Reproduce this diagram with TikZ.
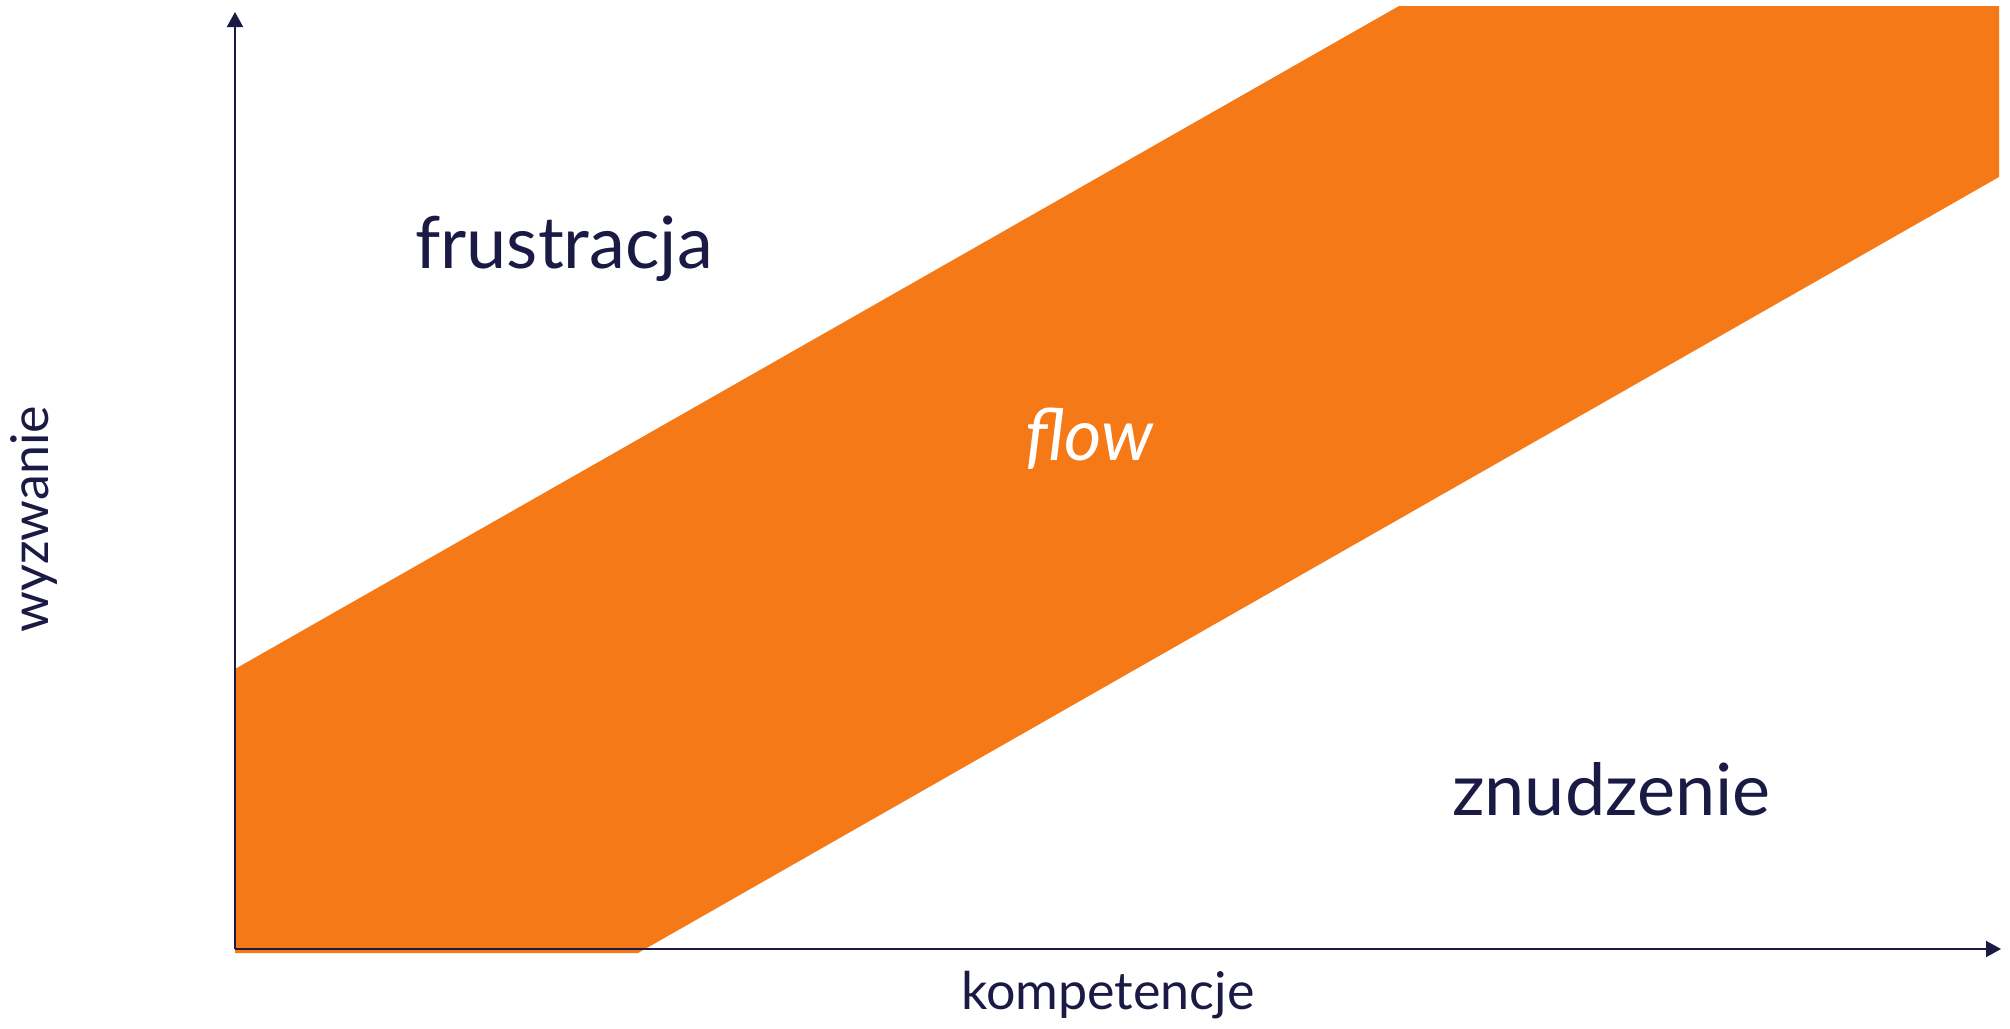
\documentclass[tikz,border=0pt]{standalone}
\usepackage{fontspec}
\setmainfont{Lato}
\usetikzlibrary{arrows.meta}
\definecolor{flowor}{RGB}{245,121,22}
\definecolor{navy}{RGB}{27,26,68}
\begin{document}
\begin{tikzpicture}[x=1pt,y=-1pt,
  axis/.style={draw=navy,line width=2pt,-{Triangle[length=15pt,width=16pt]}},
  biglabel/.style={text=navy,font=\fontsize{72}{80}\selectfont,inner sep=0pt,anchor=base west},
  axlabel/.style={text=navy,font=\fontsize{52}{60}\selectfont,inner sep=0pt}]
\useasboundingbox (0,0) rectangle (2010,1028);
\fill[flowor] (235,669) -- (1399,6) -- (1999,6) -- (1999,177) -- (638,953) -- (235,953) -- cycle;
\coordinate (O) at (235,949);
\coordinate (Ytop) at (235,12);
\coordinate (Xend) at (2001,949);
\draw[axis] (O) -- (Ytop);
\draw[axis] (O) -- (Xend);
\node[biglabel] (frus) at (415,268) {frustracja};
\node[biglabel,text=white,font=\fontsize{72}{80}\itshape] (flow) at (1025,460) {flow};
\node[biglabel] (znud) at (1452,815) {znudzenie};
\node[axlabel,anchor=base west] (komp) at (961,1009) {kompetencje};
\node[axlabel,rotate=90,anchor=base] (wyz) at (48,519) {wyzwanie};
\end{tikzpicture}
\end{document}
